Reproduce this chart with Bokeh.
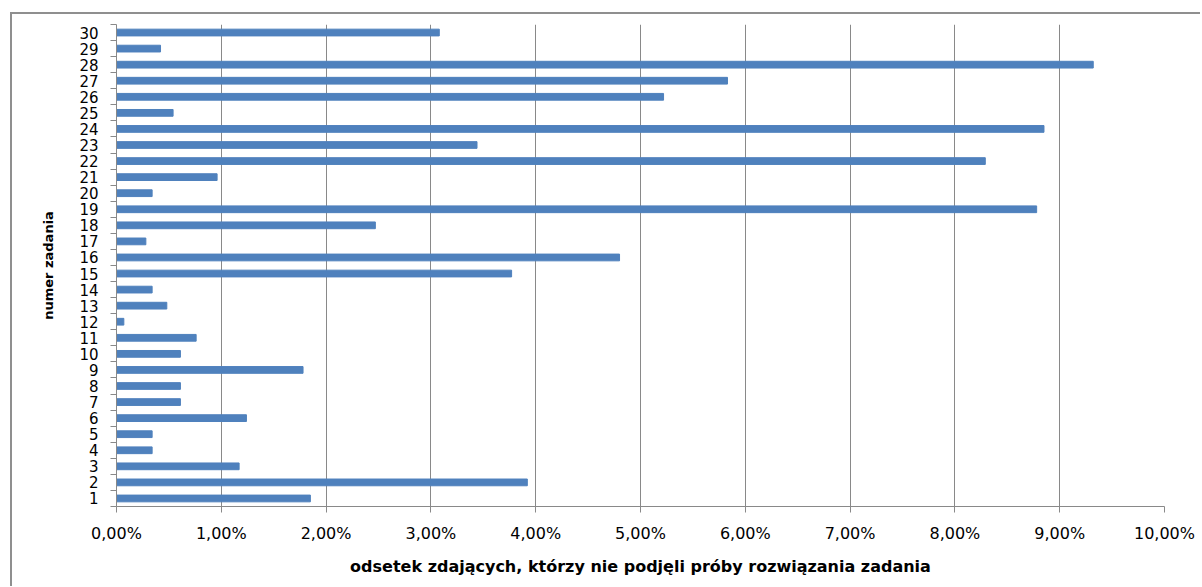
from bokeh.plotting import figure
from bokeh.embed import file_html
from bokeh.resources import INLINE
from bokeh.models import FixedTicker, CustomJSTickFormatter, Range1d

tasks = list(range(1, 31))
values = [1.85, 3.92, 1.17, 0.34, 0.34, 1.24, 0.61, 0.61, 1.78, 0.61,
          0.76, 0.07, 0.48, 0.34, 3.77, 4.80, 0.28, 2.47, 8.78, 0.34,
          0.96, 8.29, 3.44, 8.85, 0.54, 5.22, 5.83, 9.32, 0.42, 3.08]
x_ticks = list(range(0, 11))
x_title = "odsetek zdających, którzy nie podjęli próby rozwiązania zadania"
y_title = "numer zadania"

GRAY = "#898989"

p = figure(width=1190, height=574, x_range=Range1d(0, 10), y_range=Range1d(0.5, 30.5),
           output_backend="svg", toolbar_location=None,
           min_border_left=104, min_border_right=38, min_border_top=10, min_border_bottom=82)
# outer chart border: left and top edges visible, right/bottom run off the page
p.styles = {"margin-left": "10px", "margin-top": "12px",
            "border-left": "2px solid #8f8f8f", "border-top": "2px solid #8f8f8f"}
p.outline_line_color = None
p.background_fill_color = "white"
p.border_fill_color = "white"

p.hbar(y=tasks, right=values, left=0, height=0.42, color="#4F81BD")

# x axis
p.xaxis.ticker = FixedTicker(ticks=x_ticks)
p.xaxis.formatter = CustomJSTickFormatter(code="return tick.toFixed(2).replace('.', ',') + '%';")
p.xaxis.axis_line_color = GRAY
p.xaxis.major_tick_line_color = GRAY
p.xaxis.major_tick_out = 6
p.xaxis.major_tick_in = 0
p.xaxis.minor_tick_line_color = None
p.xaxis.major_label_text_font = "DejaVu Sans"
p.xaxis.major_label_text_font_size = "16px"
p.xaxis.major_label_text_color = "#000000"
p.xaxis.major_label_standoff = 11
p.xaxis.axis_label = x_title
p.xaxis.axis_label_text_font = "DejaVu Sans"
p.xaxis.axis_label_text_font_style = "bold"
p.xaxis.axis_label_text_font_size = "16px"
p.xaxis.axis_label_text_color = "#000000"
p.xaxis.axis_label_standoff = 11

# y axis
p.yaxis.ticker = FixedTicker(ticks=tasks, minor_ticks=[t - 0.5 for t in tasks] + [30.5])
p.yaxis.axis_line_color = GRAY
p.yaxis.major_tick_out = 0
p.yaxis.major_tick_in = 0
p.yaxis.minor_tick_out = 6
p.yaxis.minor_tick_in = 0
p.yaxis.minor_tick_line_color = GRAY
p.yaxis.major_label_text_font = "DejaVu Sans"
p.yaxis.major_label_text_font_size = "15px"
p.yaxis.major_label_text_color = "#000000"
p.yaxis.major_label_standoff = 12
p.yaxis.axis_label = y_title
p.yaxis.axis_label_text_font = "DejaVu Sans"
p.yaxis.axis_label_text_font_style = "bold"
p.yaxis.axis_label_text_font_size = "13px"
p.yaxis.axis_label_text_color = "#000000"
p.yaxis.axis_label_standoff = 20

p.xgrid.ticker = FixedTicker(ticks=x_ticks)
p.xgrid.grid_line_color = GRAY
p.xgrid.grid_line_width = 1
p.ygrid.grid_line_color = None

open("out.html", "w").write(file_html(p, INLINE))
